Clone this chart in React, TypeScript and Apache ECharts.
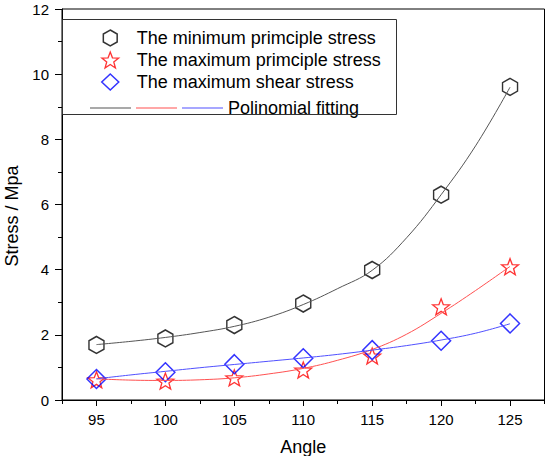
import React, { useEffect, useRef } from 'react';
import * as echarts from 'echarts';

// Measured points
const angles = [95, 100, 105, 110, 115, 120, 125];
const minPrincipal = [1.69, 1.89, 2.3, 2.96, 3.99, 6.3, 9.61];
const maxPrincipal = [0.62, 0.58, 0.68, 0.92, 1.35, 2.86, 4.09];
const maxShear = [0.645, 0.85, 1.1, 1.28, 1.53, 1.82, 2.35];

// Polynomial fitting curves
const fitAngles = [95, 97.5, 100, 102.5, 105, 107.5, 110, 112.5, 115, 117.5, 120, 122.5, 125];
const fitMin = [1.7, 1.8, 1.92, 2.07, 2.26, 2.54, 2.93, 3.42, 3.98, 4.98, 6.3, 7.8, 9.6];
const fitMax = [0.65, 0.61, 0.6, 0.62, 0.68, 0.8, 0.97, 1.22, 1.55, 2.02, 2.66, 3.36, 4.1];
const fitShear = [0.65, 0.77, 0.88, 0.99, 1.09, 1.19, 1.29, 1.4, 1.53, 1.67, 1.84, 2.05, 2.34];

const xMajorTicks = [95, 100, 105, 110, 115, 120, 125];
const xMinorTicks = [92.5, 97.5, 102.5, 107.5, 112.5, 117.5, 122.5, 127.5];

const seriesNames = [
  'The minimum primciple stress',
  'The maximum primciple stress',
  'The maximum shear stress',
];
const fitNames = ['fit-min', 'fit-max', 'fit-shear'];
const fitColors = ['#555555', '#ff5050', '#5050ff'];
const fitLabel = 'Polinomial fitting';
const xTitle = 'Angle';
const yTitle = 'Stress / Mpa';

const FONT = '"Liberation Sans", Arial, sans-serif';

const hexPath = 'path://M8.66,0 L17.32,5 L17.32,15 L8.66,20 L0,15 L0,5 Z';
function starPath(): string {
  const pts: string[] = [];
  for (let i = 0; i < 10; i++) {
    const a = (-90 + 36 * i) * Math.PI / 180;
    const r = i % 2 === 0 ? 10 : 4.2;
    pts.push(`${(10 + r * Math.cos(a)).toFixed(2)},${(10 + r * Math.sin(a)).toFixed(2)}`);
  }
  return 'path://M' + pts.join(' L') + ' Z';
}
const starSym = starPath();

export default function App() {
  const ref = useRef<HTMLDivElement>(null);
  useEffect(() => {
    if (!ref.current) return;
    const chart = echarts.init(ref.current, undefined, { renderer: 'svg' });
    const pair = (xs: number[], ys: number[]) => xs.map((x, i) => [x, ys[i]]);
    const fitData = [fitMin, fitMax, fitShear];
    const option: any = {
      animation: false,
      backgroundColor: '#fff',
      textStyle: { fontFamily: FONT },
      grid: {
        left: 62, right: 1.5, top: 9, bottom: 56,
        containLabel: false, outerBoundsMode: 'none',
        show: true, borderColor: '#000', borderWidth: 1, backgroundColor: 'transparent',
      },
      xAxis: [
        {
          type: 'value', min: 92.5, max: 127.5,
          name: xTitle, nameLocation: 'middle', nameGap: 38,
          nameTextStyle: { fontSize: 18, color: '#000', fontFamily: FONT },
          axisLine: { show: true, onZero: false, lineStyle: { color: '#000', width: 1 } },
          axisTick: { show: true, inside: false, length: 6, customValues: xMajorTicks, lineStyle: { color: '#000' } },
          axisLabel: { show: true, margin: 12, fontSize: 15, color: '#000', fontFamily: FONT, customValues: xMajorTicks },
          splitLine: { show: false },
        },
        {
          type: 'value', min: 92.5, max: 127.5, position: 'bottom',
          axisLine: { show: false },
          axisTick: { show: true, inside: false, length: 4, customValues: xMinorTicks, lineStyle: { color: '#000' } },
          axisLabel: { show: false },
          splitLine: { show: false },
        },
      ],
      yAxis: {
        type: 'value', min: 0, max: 12, interval: 2,
        name: yTitle, nameLocation: 'middle', nameGap: 35, nameRotate: 90,
        nameTextStyle: { fontSize: 18, color: '#000', fontFamily: FONT, padding: [0, 23, 0, 0] },
        axisLine: { show: true, onZero: false, lineStyle: { color: '#000', width: 1 } },
        axisTick: { show: true, inside: false, length: 7, lineStyle: { color: '#000' } },
        minorTick: { show: true, splitNumber: 2, length: 4, lineStyle: { color: '#000' } },
        axisLabel: { margin: 13, fontSize: 15, color: '#000', fontFamily: FONT },
        splitLine: { show: false },
        minorSplitLine: { show: false },
      },
      legend: [
        {
          orient: 'vertical', left: 96, top: 24, itemWidth: 17, itemHeight: 16, itemGap: 4,
          textStyle: { fontSize: 18, color: '#000', fontFamily: FONT, padding: [0, 0, 0, 13] },
          data: [
            { name: seriesNames[0], icon: hexPath, itemStyle: { color: 'transparent', borderColor: '#000', borderWidth: 1.5 } },
            { name: seriesNames[1], icon: starSym, itemStyle: { color: 'transparent', borderColor: '#ff0000', borderWidth: 1.3 } },
            { name: seriesNames[2], icon: 'diamond', itemStyle: { color: 'transparent', borderColor: '#0000ff', borderWidth: 1.5 } },
          ],
          selectedMode: false,
        },
        {
          orient: 'horizontal', left: 85, top: 94, itemWidth: 41, itemHeight: 1, itemGap: 5,
          textStyle: { fontSize: 18, color: '#000', fontFamily: FONT },
          formatter: (name: string) => (name === fitNames[2] ? fitLabel : ''),
          data: fitNames.map((n, i) => ({ name: n, icon: 'rect', itemStyle: { color: fitColors[i], borderWidth: 0 } })),
          selectedMode: false,
        },
      ],
      graphic: {
        elements: [
          { id: 'lgbox', type: 'rect', z: 100, shape: { x: 62.5, y: 19.5, width: 334, height: 95 }, style: { fill: 'none', stroke: '#333333', lineWidth: 1 } },
        ],
      },
      series: [
        ...fitNames.map((n, i) => ({
          name: n, type: 'line', data: pair(fitAngles, fitData[i]), smooth: 0.4, showSymbol: false,
          color: fitColors[i], lineStyle: { color: fitColors[i], width: 1 }, silent: true,
        })),
        {
          name: seriesNames[0], type: 'scatter', data: pair(angles, minPrincipal), symbol: hexPath, symbolSize: [15, 17],
          itemStyle: { color: 'transparent', borderColor: '#000', borderWidth: 1.5 },
        },
        {
          name: seriesNames[1], type: 'scatter', data: pair(angles, maxPrincipal), symbol: starSym, symbolSize: [17, 16],
          itemStyle: { color: 'transparent', borderColor: '#ff0000', borderWidth: 1.3 },
        },
        {
          name: seriesNames[2], type: 'scatter', data: pair(angles, maxShear), symbol: 'diamond', symbolSize: 19,
          itemStyle: { color: 'transparent', borderColor: '#0000ff', borderWidth: 1.5 },
        },
      ],
    };
    chart.setOption(option);
    return () => chart.dispose();
  }, []);
  return <div ref={ref} style={{ position: 'absolute', left: 0, top: 0, width: 546, height: 456 }} />;
}
